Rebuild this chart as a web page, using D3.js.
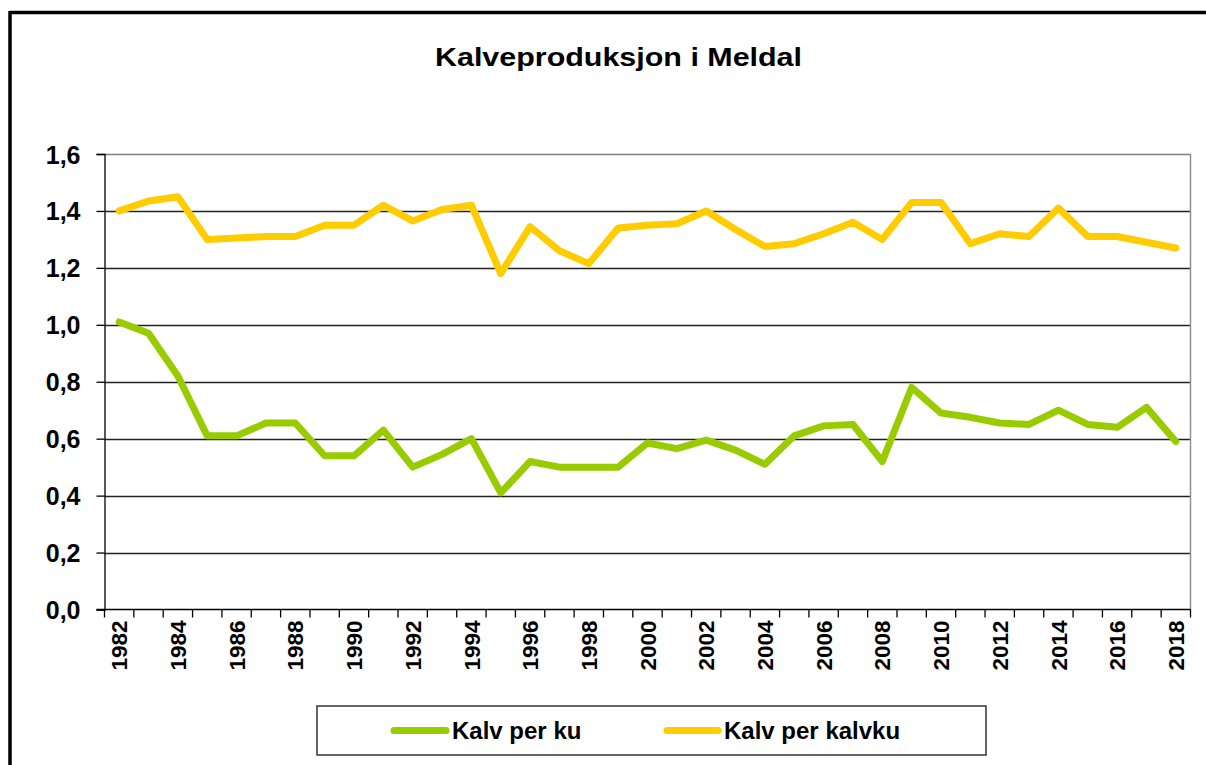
<!DOCTYPE html>
<html>
<head>
<meta charset="utf-8">
<script src="https://cdn.jsdelivr.net/npm/d3@7/dist/d3.min.js"></script>
<style>
  body { margin: 0; background: #fff; }
  svg text { font-family: Arial, "Liberation Sans", sans-serif; font-weight: bold; fill: #000; }
</style>
</head>
<body>
<svg id="chart" width="1206" height="765"></svg>
<script>
// data
var years = d3.range(1982, 2019);
var kalvPerKu = [1.01, 0.97, 0.82, 0.61, 0.61, 0.655, 0.655, 0.54, 0.54, 0.63,
  0.50, 0.545, 0.60, 0.41, 0.52, 0.50, 0.50, 0.50, 0.585, 0.565,
  0.595, 0.56, 0.51, 0.61, 0.645, 0.65, 0.52, 0.78, 0.69, 0.675,
  0.655, 0.65, 0.70, 0.65, 0.64, 0.71, 0.59];
var kalvPerKalvku = [1.40, 1.435, 1.45, 1.30, 1.305, 1.31, 1.31, 1.35, 1.35, 1.42,
  1.365, 1.405, 1.42, 1.18, 1.345, 1.26, 1.215, 1.34, 1.35, 1.355,
  1.40, 1.335, 1.275, 1.285, 1.32, 1.36, 1.30, 1.43, 1.43, 1.285,
  1.32, 1.31, 1.41, 1.31, 1.31, 1.29, 1.27];
var yTicks = [0, 0.2, 0.4, 0.6, 0.8, 1.0, 1.2, 1.4, 1.6];
var xLabels = years.filter(function(y){ return y % 2 === 0; });

var series = [
  { name: 'Kalv per ku', values: kalvPerKu, color: '#99cc00' },
  { name: 'Kalv per kalvku', values: kalvPerKalvku, color: '#ffcc00' }
];

var svg = d3.select('#chart');
var plotL = 104.5, plotR = 1190.5, plotT = 154, plotB = 609.5;

var x = d3.scaleBand().domain(years).range([plotL, plotR]);
var y = d3.scaleLinear().domain([0, 1.6]).range([plotB, plotT]);

// outer frame (only left and top visible)
svg.append('line').attr('x1', 10).attr('y1', 12.5).attr('x2', 1206).attr('y2', 12.5)
  .attr('stroke', '#000').attr('stroke-width', 3.5);
svg.append('line').attr('x1', 10).attr('y1', 11).attr('x2', 10).attr('y2', 765)
  .attr('stroke', '#000').attr('stroke-width', 3.5);

// title
svg.append('text')
  .attr('x', 618.5).attr('y', 66)
  .attr('text-anchor', 'middle')
  .attr('textLength', 367).attr('lengthAdjust', 'spacingAndGlyphs')
  .style('font-size', '25px')
  .text('Kalveproduksjon i Meldal');

// gridlines
svg.append('g').selectAll('line').data(yTicks.filter(function(d){ return d > 0; }))
  .join('line')
  .attr('x1', plotL).attr('x2', plotR)
  .attr('y1', function(d){ return Math.round(y(d)) + 0.5; })
  .attr('y2', function(d){ return Math.round(y(d)) + 0.5; })
  .attr('stroke', function(d){ return d === 1.6 ? '#808080' : '#222'; })
  .attr('stroke-width', 1.3);

// right border of plot
svg.append('line').attr('x1', plotR).attr('x2', plotR).attr('y1', plotT).attr('y2', plotB)
  .attr('stroke', '#909090').attr('stroke-width', 1.5);

// y axis
var yAxis = d3.axisLeft(y).tickValues(yTicks).tickSize(8).tickPadding(16)
  .tickFormat(function(d){ return d3.format('.1f')(d).replace('.', ','); });
var gy = svg.append('g').attr('transform', 'translate(' + plotL + ',0)').call(yAxis);
gy.select('.domain').attr('stroke', '#000').attr('stroke-width', 1.3);
gy.selectAll('.tick line').attr('stroke', '#000').attr('stroke-width', 1.3);
gy.selectAll('text').style('font-size', '25px').attr('font-family', null).attr('dy', '0.36em');

// x axis: ticks at category boundaries, labels every other year
var gx = svg.append('g').attr('transform', 'translate(0,' + plotB + ')');
gx.append('line').attr('x1', plotL - 8).attr('x2', plotR).attr('y1', 0).attr('y2', 0)
  .attr('stroke', '#000').attr('stroke-width', 1.3);
gx.selectAll('.xt').data(years.concat([2019]))
  .join('line').attr('class', 'xt')
  .attr('x1', function(d, i){ return i < years.length ? x(d) : plotR; })
  .attr('x2', function(d, i){ return i < years.length ? x(d) : plotR; })
  .attr('y1', 0).attr('y2', 8)
  .attr('stroke', '#000').attr('stroke-width', 1.3);
gx.selectAll('.xl').data(xLabels)
  .join('text').attr('class', 'xl')
  .attr('transform', function(d){ return 'translate(' + (x(d) + x.bandwidth() / 2) + ',11) rotate(-90)'; })
  .attr('text-anchor', 'end').attr('dy', '0.36em')
  .style('font-size', '22.5px')
  .text(function(d){ return d; });

// lines
var line = d3.line()
  .x(function(d, i){ return x(years[i]) + x.bandwidth() / 2; })
  .y(function(d){ return y(d); });

svg.append('g').selectAll('path').data(series)
  .join('path')
  .attr('d', function(s){ return line(s.values); })
  .attr('fill', 'none')
  .attr('stroke', function(s){ return s.color; })
  .attr('stroke-width', 7)
  .attr('stroke-linejoin', 'round')
  .attr('stroke-linecap', 'round');

// legend
var lg = svg.append('g');
lg.append('rect').attr('x', 317).attr('y', 706).attr('width', 669).attr('height', 49)
  .attr('fill', '#fff').attr('stroke', '#333').attr('stroke-width', 1.5);
var legendPos = [{ x1: 394, x2: 446, tx: 452 }, { x1: 667, x2: 718, tx: 724 }];
series.forEach(function(s, i){
  var p = legendPos[i];
  lg.append('line').attr('x1', p.x1).attr('x2', p.x2).attr('y1', 730.5).attr('y2', 730.5)
    .attr('stroke', s.color).attr('stroke-width', 7).attr('stroke-linecap', 'round');
  lg.append('text').attr('x', p.tx).attr('y', 730.5).attr('dy', '0.36em')
    .style('font-size', '24px').text(s.name);
});
</script>
</body>
</html>
